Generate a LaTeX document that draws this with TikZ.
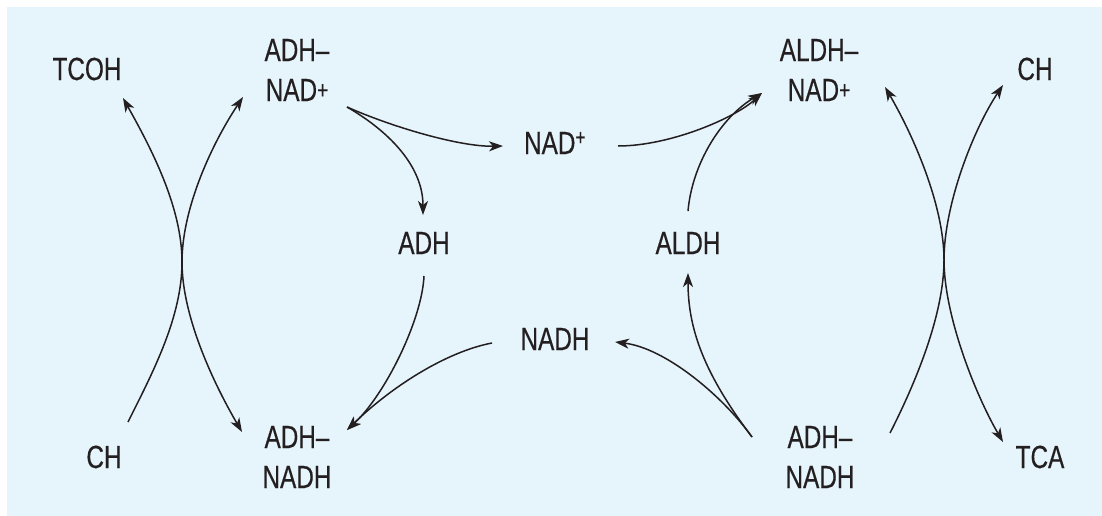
\documentclass[tikz,border=0pt]{standalone}
\usepackage{fontspec}
\setmainfont{Liberation Sans}[FakeStretch=0.76,FakeBold=0.4]
\usetikzlibrary{arrows.meta}
\definecolor{panel}{RGB}{230,244,251}
\definecolor{ink}{RGB}{35,31,32}
\newcommand{\bplus}{\raisebox{2.5pt}{\fontsize{25}{25}\selectfont+}}
\begin{document}
\begin{tikzpicture}[x=1pt,y=-1pt,
  lbl/.style={font=\fontsize{32}{40}\selectfont, text=ink, inner sep=0pt, align=center},
  head/.style={Stealth[length=14pt,width=10pt,inset=4pt]},
  conn/.style={draw=ink, line width=1.5pt, -{Stealth[length=14pt,width=10pt,inset=4pt]}},
  both/.style={draw=ink, line width=1.5pt, {Stealth[length=14pt,width=10pt,inset=4pt]}-{Stealth[length=14pt,width=10pt,inset=4pt]}}
]
\useasboundingbox (0,0) rectangle (1102,516);
\fill[panel] (7,7) rectangle (1102,516);

% labels
\node[lbl] (tcoh)     at (87,69)   {TCOH};
\node[lbl] (adhnad)   at (297,70)  {ADH–\\NAD\bplus};
\node[lbl] (nadp)     at (555,143) {NAD\textsuperscript{+}};
\node[lbl] (aldhnad)  at (819,70)  {ALDH–\\NAD\bplus};
\node[lbl] (chR)      at (1035,69) {CH};
\node[lbl] (adh)      at (424,243) {ADH};
\node[lbl] (aldh)     at (688,243) {ALDH};
\node[lbl] (nadh)     at (555,339) {NADH};
\node[lbl] (chL)      at (104,457) {CH};
\node[lbl] (adhnadhL) at (297,457) {ADH–\\NADH};
\node[lbl] (adhnadhR) at (820,457) {ADH–\\NADH};
\node[lbl] (tca)      at (1040,457) {TCA};

% points where the paired arcs touch
\coordinate (xL) at (182,262);
\coordinate (xR) at (944,260);

% left pair of arcs
\draw[conn] ([shift={(24,-35)}]chL.center) .. controls (153,372) and (182,317) .. (xL)
  .. controls (182,207) and (151,148) .. ([shift={(36,29)}]tcoh.center);
\draw[both] ([shift={(-54,27)}]adhnad.center) .. controls (213,142) and (182,207) .. (xL)
  .. controls (182,317) and (214,384) .. ([shift={(-55,-25)}]adhnadhL.center);

% right pair of arcs
\draw[conn] ([shift={(70,-24)}]adhnadhR.center) .. controls (915,384) and (944,315) .. (xR)
  .. controls (944,205) and (913,135) .. ([shift={(66,17)}]aldhnad.center);
\draw[both] ([shift={(-32,16)}]chR.center) .. controls (973,130) and (944,205) .. (xR)
  .. controls (944,315) and (975,394) .. ([shift={(-37,-15)}]tca.center);

% upper left branch
\draw[conn] ([shift={(50,37)}]adhnad.center) .. controls (392,127) and (460,147) .. ([shift={(-52,3)}]nadp.center);
\draw[conn] ([shift={(50,37)}]adhnad.center) .. controls (387,130) and (423,165) .. ([shift={(-1,-28)}]adh.center);

% upper right branch
\draw[conn] ([shift={(63,3)}]nadp.center) .. controls (670,146) and (735,118) .. ([shift={(-57,23)}]aldhnad.center);
\draw[conn] ([shift={(0,-32)}]aldh.center) .. controls (692,165) and (720,118) .. ([shift={(-57,23)}]aldhnad.center);

% lower left branch
\draw[conn] ([shift={(0,33)}]adh.center) .. controls (422,320) and (385,395) .. ([shift={(50,-27)}]adhnadhL.center);
\draw[conn] ([shift={(-63,4)}]nadh.center) .. controls (445,352) and (390,388) .. ([shift={(50,-27)}]adhnadhL.center);

% lower right branch
\draw[conn] ([shift={(-68,-20)}]adhnadhR.center) .. controls (722,395) and (665,348) .. ([shift={(60,3)}]nadh.center);
\draw[conn] ([shift={(-68,-20)}]adhnadhR.center) .. controls (705,375) and (688,330) .. ([shift={(0,30)}]aldh.center);
\end{tikzpicture}
\end{document}
